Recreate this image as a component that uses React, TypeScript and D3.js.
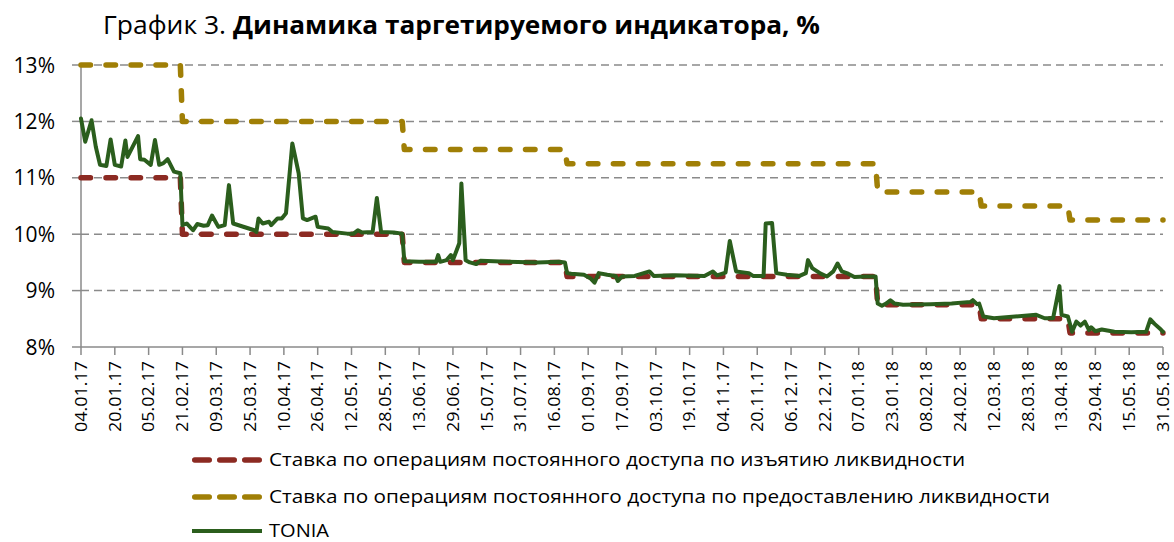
import React from "react";
import * as d3 from "d3";

// ---- Data ----
const xTickLabels = [
  "04.01.17","20.01.17","05.02.17","21.02.17","09.03.17","25.03.17","10.04.17","26.04.17",
  "12.05.17","28.05.17","13.06.17","29.06.17","15.07.17","31.07.17","16.08.17","01.09.17",
  "17.09.17","03.10.17","19.10.17","04.11.17","20.11.17","06.12.17","22.12.17","07.01.18",
  "23.01.18","08.02.18","24.02.18","12.03.18","28.03.18","13.04.18","29.04.18","15.05.18","31.05.18",
];
const yTicks = [8, 9, 10, 11, 12, 13];

const rateChangeDates = ["2017-01-04","2017-02-21","2017-06-06","2017-08-22","2018-01-16","2018-03-06","2018-04-17"];
const withdrawalRates = [11, 10, 9.5, 9.25, 8.75, 8.5, 8.25];
const provisionRates = [13, 12, 11.5, 11.25, 10.75, 10.5, 10.25];
const endDate = "2018-05-31";

const toniaDates = [
  "2017-01-04","2017-01-06","2017-01-09","2017-01-11","2017-01-13","2017-01-16","2017-01-18","2017-01-20",
  "2017-01-23","2017-01-25","2017-01-26","2017-01-31","2017-02-01","2017-02-03","2017-02-06","2017-02-08",
  "2017-02-10","2017-02-12","2017-02-14","2017-02-17","2017-02-20","2017-02-21","2017-02-23","2017-02-26",
  "2017-02-28","2017-03-03","2017-03-05","2017-03-07","2017-03-10","2017-03-13","2017-03-15","2017-03-17",
  "2017-03-27","2017-03-28","2017-03-29","2017-03-31","2017-04-03","2017-04-04","2017-04-07","2017-04-09",
  "2017-04-11","2017-04-12","2017-04-14","2017-04-17","2017-04-19","2017-04-21","2017-04-25","2017-04-26",
  "2017-05-01","2017-05-03","2017-05-10","2017-05-13","2017-05-15","2017-05-17","2017-05-22","2017-05-24",
  "2017-05-26","2017-06-01","2017-06-05","2017-06-06","2017-06-13","2017-06-21","2017-06-22","2017-06-23",
  "2017-06-26","2017-06-28","2017-06-29","2017-07-02","2017-07-03","2017-07-05","2017-07-07","2017-07-10",
  "2017-07-12","2017-07-25","2017-08-08","2017-08-18","2017-08-21","2017-08-22","2017-08-24","2017-08-30",
  "2017-09-02","2017-09-04","2017-09-06","2017-09-10","2017-09-14","2017-09-15","2017-09-17","2017-09-23",
  "2017-09-30","2017-10-02","2017-10-12","2017-10-26","2017-10-30","2017-11-01","2017-11-05","2017-11-07",
  "2017-11-10","2017-11-16","2017-11-18","2017-11-23","2017-11-24","2017-11-27","2017-11-29","2017-12-04",
  "2017-12-10","2017-12-13","2017-12-14","2017-12-16","2017-12-20","2017-12-23","2017-12-26","2017-12-28",
  "2017-12-30","2018-01-02","2018-01-05","2018-01-10","2018-01-15","2018-01-16","2018-01-18","2018-01-20",
  "2018-01-22","2018-01-24","2018-01-28","2018-02-10","2018-02-20","2018-03-01","2018-03-02","2018-03-04",
  "2018-03-05","2018-03-07","2018-03-12","2018-04-01","2018-04-05","2018-04-09","2018-04-12","2018-04-13",
  "2018-04-16","2018-04-18","2018-04-20","2018-04-22","2018-04-24","2018-04-26","2018-04-27","2018-04-29",
  "2018-05-02","2018-05-08","2018-05-16","2018-05-23","2018-05-25","2018-05-27","2018-05-30","2018-05-31",
];
const toniaValues = [
  12.05, 11.64, 12.02, 11.55, 11.23, 11.21, 11.68, 11.23,
  11.20, 11.66, 11.37, 11.74, 11.33, 11.32, 11.23, 11.67,
  11.23, 11.26, 11.33, 11.11, 11.08, 10.16, 10.19, 10.07,
  10.18, 10.15, 10.16, 10.33, 10.13, 10.16, 10.87, 10.19,
  10.07, 10.04, 10.28, 10.19, 10.22, 10.16, 10.28, 10.28,
  10.37, 10.78, 11.61, 11.08, 10.28, 10.25, 10.31, 10.13,
  10.10, 10.04, 10.01, 10.01, 10.07, 10.03, 10.04, 10.64,
  10.04, 10.03, 10.01, 9.52, 9.51, 9.51, 9.63, 9.51,
  9.54, 9.63, 9.54, 9.84, 10.90, 9.54, 9.50, 9.47,
  9.53, 9.51, 9.50, 9.51, 9.50, 9.31, 9.30, 9.28,
  9.22, 9.14, 9.31, 9.28, 9.26, 9.17, 9.25, 9.26,
  9.34, 9.26, 9.27, 9.26, 9.34, 9.27, 9.32, 9.88,
  9.34, 9.31, 9.26, 9.26, 10.19, 10.20, 9.31, 9.28,
  9.26, 9.31, 9.54, 9.40, 9.30, 9.25, 9.34, 9.48,
  9.34, 9.30, 9.24, 9.25, 9.25, 8.77, 8.73, 8.77,
  8.83, 8.77, 8.75, 8.76, 8.77, 8.80, 8.83, 8.76,
  8.77, 8.54, 8.51, 8.57, 8.51, 8.51, 9.08, 8.57,
  8.54, 8.27, 8.45, 8.38, 8.45, 8.30, 8.35, 8.28,
  8.31, 8.27, 8.26, 8.27, 8.49, 8.41, 8.31, 8.27,
];

const titleRegular = "График 3.";
const titleBold = "Динамика таргетируемого индикатора, %";
const legendLabels = [
  "Ставка по операциям постоянного доступа по изъятию ликвидности",
  "Ставка по операциям постоянного доступа по предоставлению ликвидности",
  "TONIA",
];

const COLORS = { withdrawal: "#8C2A22", provision: "#A07F06", tonia: "#2B5E1D", grid: "#8A8A8A" };
const FONT = "'Open Sans', 'Noto Sans', 'DejaVu Sans', sans-serif";

const parse = d3.utcParse("%Y-%m-%d");
const DAY = 24 * 3600 * 1000;

function stepPoints(values: number[]) {
  const pts: [Date, number][] = [];
  for (let i = 0; i < values.length; i++) {
    const s = parse(rateChangeDates[i])!;
    const e = i + 1 < values.length ? new Date(parse(rateChangeDates[i + 1])!.getTime() - DAY) : parse(endDate)!;
    pts.push([s, values[i]]);
    pts.push([e, values[i]]);
  }
  return pts;
}

export default function App() {
  const W = 1174, H = 542;
  const x = d3.scaleUtc().domain([parse("2017-01-04")!, parse(endDate)!]).range([81, 1163]);
  const y = d3.scaleLinear().domain([8, 13]).range([347, 65]);
  const line = d3.line<[Date, number]>().x((d) => x(d[0])).y((d) => y(d[1]));

  const tickDates = xTickLabels.map((l) => {
    const [dd, mm, yy] = l.split(".");
    return parse(`20${yy}-${mm}-${dd}`)!;
  });
  const tonia: [Date, number][] = toniaDates.map((d, i) => [parse(d)!, toniaValues[i]]);

  const dash = "9.5 15.5";
  const legendY = [460, 497, 531];
  const legendWidths = [696, 781, 60];

  return (
    <svg width={W} height={H} style={{ position: "absolute", left: 0, top: 0, background: "#fff" }} fontFamily={FONT}>
      {/* title */}
      <text x={103} y={34} fontSize={25.5} fill="#000" textLength={123} lengthAdjust="spacingAndGlyphs">{titleRegular}</text>
      <text x={233} y={34} fontSize={25.5} fontWeight="bold" fill="#000" textLength={587} lengthAdjust="spacingAndGlyphs">{titleBold}</text>

      {/* gridlines */}
      {yTicks.filter((t) => t > 8).map((t) => (
        <line key={t} x1={81} x2={1163} y1={y(t)} y2={y(t)} stroke={COLORS.grid} strokeWidth={1.5} strokeDasharray="8 5" />
      ))}
      {/* y axis */}
      <line x1={81} x2={81} y1={y(13)} y2={y(8)} stroke={COLORS.grid} strokeWidth={1.5} />
      {yTicks.map((t) => (
        <g key={t}>
          <line x1={72} x2={81} y1={y(t)} y2={y(t)} stroke={COLORS.grid} strokeWidth={1.5} />
          <text x={55} y={y(t)} dy="0.36em" textAnchor="end" fontSize={21} fill="#000">{t}%</text>
        </g>
      ))}
      {/* x axis */}
      <line x1={81} x2={1163} y1={y(8)} y2={y(8)} stroke={COLORS.grid} strokeWidth={1.5} />
      {tickDates.map((d, i) => (
        <g key={i}>
          <line x1={x(d)} x2={x(d)} y1={y(8)} y2={y(8) + 8} stroke={COLORS.grid} strokeWidth={1.5} />
          <text transform={`translate(${x(d)},361) rotate(-90)`} dy="0.36em" textAnchor="end" fontSize={16}
            fill="#000" textLength={71} lengthAdjust="spacingAndGlyphs">
            {xTickLabels[i]}
          </text>
        </g>
      ))}

      {/* series */}
      <path d={line(stepPoints(provisionRates))!} fill="none" stroke={COLORS.provision} strokeWidth={5.5}
        strokeDasharray={dash} strokeLinecap="round" strokeLinejoin="round" />
      <path d={line(stepPoints(withdrawalRates))!} fill="none" stroke={COLORS.withdrawal} strokeWidth={5.5}
        strokeDasharray={dash} strokeLinecap="round" strokeLinejoin="round" />
      <path d={line(tonia)!} fill="none" stroke={COLORS.tonia} strokeWidth={4} strokeLinejoin="round" strokeLinecap="round" />

      {/* legend */}
      {legendLabels.map((lab, i) => {
        const color = i === 0 ? COLORS.withdrawal : i === 1 ? COLORS.provision : COLORS.tonia;
        return (
          <g key={i}>
            {i < 2 ? (
              <line x1={194.75} x2={260} y1={legendY[i]} y2={legendY[i]} stroke={color} strokeWidth={5.5}
                strokeDasharray="14.5 10.5" strokeLinecap="round" />
            ) : (
              <line x1={192} x2={262} y1={legendY[i]} y2={legendY[i]} stroke={color} strokeWidth={4} />
            )}
            <text x={269} y={legendY[i]} dy="0.36em" fontSize={17.5} fill="#000"
              textLength={legendWidths[i]} lengthAdjust="spacingAndGlyphs">{lab}</text>
          </g>
        );
      })}
    </svg>
  );
}
